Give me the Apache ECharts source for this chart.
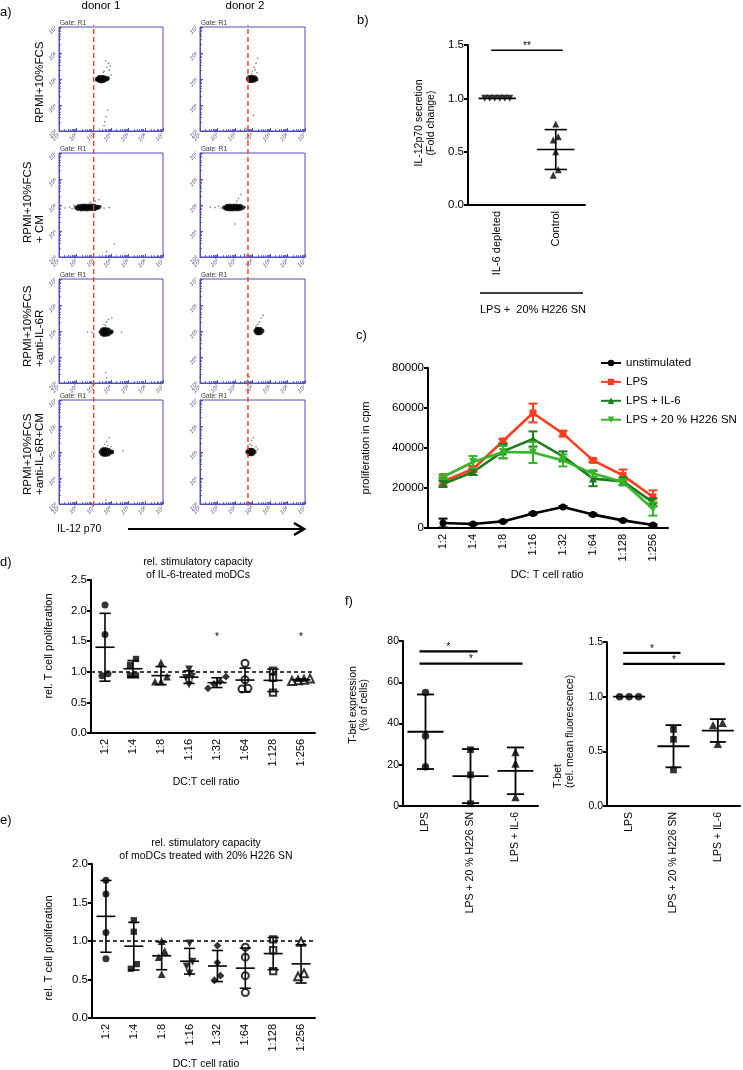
<!DOCTYPE html>
<html><head><meta charset="utf-8">
<script src="https://cdn.jsdelivr.net/npm/echarts@6/dist/echarts.min.js"></script>
<style>html,body{margin:0;padding:0;background:#fff}#c{width:743px;height:1070px}</style>
</head><body><div id="c"></div>
<script>
// ---------------- DATA ----------------
// Panel a: flow cytometry events, [log10 IL-12p70, log10 y-parameter]
const flowRowLabels = ['RPMI+10%FCS', 'RPMI+10%FCS\n+ CM', 'RPMI+10%FCS\n+anti-IL-6R', 'RPMI+10%FCS\n+anti-IL-6R+CM'];
const donorLabels = ['donor 1', 'donor 2'];
const gateThreshold = [1000, 5500];
const d1r1Blob = [[3.2,4.98],[3.25,5.0],[3.32,4.94],[3.32,5.06],[3.42,4.92],[3.42,5.05],[3.52,4.93],[3.52,5.06],[3.62,4.95],[3.62,5.05],[3.72,5.0],[3.8,5.02]];
const d1r1Sparse = [[3.6,5.3],[3.75,5.45],[3.85,5.6],[3.7,5.7],[3.95,5.5],[3.55,5.25],[3.9,5.35],[4.0,5.15],[3.8,3.8],[3.72,3.55],[3.65,3.35],[3.6,3.2]];
const d2r1Blob = [[3.75,5.0],[3.82,4.94],[3.82,5.06],[3.92,4.93],[3.92,5.06],[4.02,4.94],[4.02,5.06],[4.12,4.96],[4.12,5.05],[4.2,5.0]];
const d2r1Sparse = [[4.0,5.3],[4.1,5.45],[4.2,5.6],[4.3,5.8],[4.15,5.35],[3.95,5.2],[4.25,5.25],[4.3,4.95],[4.05,3.6],[3.6,3.1],[3.75,3.05]];
const d1r2Blob = [[2.0,4.9],[2.1,4.86],[2.15,4.95],[2.22,4.88],[2.3,4.84],[2.3,4.96],[2.38,4.9],[2.45,4.85],[2.45,4.97],[2.52,4.9],[2.6,4.84],[2.6,4.96],[2.68,4.9],[2.75,4.85],[2.75,4.97],[2.82,4.9],[2.9,4.86],[2.9,4.97],[2.98,4.91],[3.05,4.85],[3.05,4.96],[3.12,4.9],[3.2,4.9],[3.3,4.92]];
const d1r2Sparse = [[1.35,4.88],[1.6,4.92],[1.75,4.86],[1.85,5.0],[3.45,4.95],[3.6,4.88],[3.1,5.15],[3.3,5.2],[2.8,5.1],[3.9,4.9],[4.2,3.5],[3.75,3.2]];
const d2r2Blob = [[2.4,4.9],[2.48,4.88],[2.55,4.85],[2.55,4.96],[2.62,4.9],[2.7,4.84],[2.7,4.97],[2.78,4.9],[2.85,4.84],[2.85,4.96],[2.92,4.9],[3.0,4.85],[3.0,4.97],[3.08,4.9],[3.15,4.84],[3.15,4.96],[3.22,4.9],[3.3,4.86],[3.3,4.96],[3.45,4.9]];
const d2r2Sparse = [[1.6,4.92],[1.85,4.9],[2.05,4.95],[2.2,4.88],[3.6,4.92],[3.75,4.9],[3.2,5.25],[3.35,5.4],[3.1,5.15],[3.0,4.27],[3.55,3.1]];
const d1r3Blob = [[3.42,4.96],[3.5,4.88],[3.5,5.04],[3.6,4.86],[3.6,5.06],[3.65,4.96],[3.72,4.87],[3.72,5.05],[3.85,4.88],[3.85,5.04],[3.95,4.95],[4.02,4.97]];
const d1r3Sparse = [[3.6,5.25],[3.75,5.35],[3.85,5.45],[4.05,5.5],[3.7,5.2],[2.65,4.96],[2.9,4.95],[4.6,4.95],[3.7,3.4],[3.75,3.2]];
const d2r3Blob = [[4.18,5.0],[4.25,4.93],[4.25,5.07],[4.3,5.0],[4.35,4.92],[4.35,5.07],[4.45,4.93],[4.45,5.06],[4.55,5.0]];
const d2r3Sparse = [[4.3,5.25],[4.4,5.35],[4.5,5.5],[4.6,5.6],[4.2,5.2],[3.7,3.3],[3.72,3.1],[3.6,3.05],[3.8,3.25]];
const d1r4Blob = [[3.42,5.0],[3.5,4.92],[3.5,5.08],[3.6,4.9],[3.6,5.1],[3.65,5.0],[3.72,4.9],[3.72,5.09],[3.85,4.92],[3.85,5.07],[3.97,5.0],[4.05,5.0]];
const d1r4Sparse = [[3.65,5.3],[3.75,5.4],[3.9,5.55],[3.8,5.25],[4.0,5.2],[4.7,5.05],[2.9,5.0],[3.7,3.15]];
const d2r4Blob = [[3.72,5.0],[3.8,4.93],[3.8,5.07],[3.85,5.0],[3.9,4.92],[3.9,5.07],[4.0,4.93],[4.0,5.06],[4.1,5.0]];
const d2r4Sparse = [[3.85,5.3],[3.95,5.45],[4.05,5.55],[4.2,5.2],[4.3,5.1],[3.95,5.25],[3.75,3.05]];

// Panel b
const bCategories = ['IL-6 depleted', 'Control'];
const bIL6Depleted = [1.0, 1.0, 1.0, 1.0, 1.0, 1.0];
const bControl = [0.76, 0.64, 0.61, 0.50, 0.33, 0.28];

// Panel c
const ratioLabels = ['1:2','1:4','1:8','1:16','1:32','1:64','1:128','1:256'];
const cNames = ['unstimulated', 'LPS', 'LPS + IL-6', 'LPS + 20 % H226 SN'];
const cUnstim    = [2500, 2000, 3300, 7200, 10500, 6700, 3800, 1500];
const cUnstimErr = [2200, 400, 400, 500, 500, 500, 400, 400];
const cLPS       = [23300, 29500, 43500, 57500, 47200, 33800, 26300, 15500];
const cLPSErr    = [2000, 1500, 1000, 4700, 1500, 800, 2900, 3300];
const cIL6       = [22000, 28000, 38300, 44500, 35800, 24700, 23300, 12800];
const cIL6Err    = [1500, 1500, 3500, 3800, 2500, 3800, 2000, 2000];
const cH226      = [25500, 33000, 38000, 37800, 33800, 27200, 23000, 9500];
const cH226Err   = [1000, 3000, 3000, 5300, 3000, 1600, 1500, 3300];

// Panel d (IL-6-treated) and e (20% H226 SN), relative proliferation per donor
const dValues = [
  [2.09, 1.61, 0.97, 0.935],
  [1.21, 1.11, 0.94, 0.94],
  [1.15, 0.92, 0.84, 0.84],
  [1.04, 0.92, 0.90, 0.79],
  [0.92, 0.84, 0.80, 0.73],
  [1.14, 0.87, 0.73, 0.72],
  [1.02, 0.90, 0.66],
  [0.89, 0.87, 0.86, 0.85]
];
const dSignificant = ['1:32', '1:256'];
const eValues = [
  [1.79, 1.61, 1.11, 0.77],
  [1.27, 1.12, 0.70, 0.64],
  [1.00, 0.87, 0.79, 0.57],
  [0.97, 0.73, 0.67, 0.58],
  [0.94, 0.72, 0.55, 0.49],
  [0.92, 0.79, 0.55, 0.33],
  [1.02, 0.88, 0.61],
  [0.99, 0.58, 0.54]
];

// Panel f
const fGroups = ['LPS', 'LPS + 20 % H226 SN', 'LPS + IL-6'];
const fTbetPercent = [[55, 34, 19], [27.3, 15.1, 1.1], [26.2, 20.6, 4.4]];
const fTbetMFI = [[1.0, 1.0, 1.0], [0.70, 0.61, 0.33], [0.76, 0.74, 0.57]];
const fPercentSig = [[0, 1, 75], [0, 2, 69]];
const fMFISig = [[0, 1, 1.40], [0, 2, 1.30]];
const bSig = [[0, 1, 1.45]];

// ---------------- BUILD ----------------
const FONT = '"Liberation Sans", Arial, Helvetica, sans-serif';
const BLUE = '#4d4dc0';
const INV = 'path://M0,0L10,0L5,9Z';
const SUP = ['\u2070','\u00b9','\u00b2','\u00b3','\u2074','\u2075','\u2076','\u2077'];

const grids = [], xAxes = [], yAxes = [], series = [], graphic = [];

function flowAxis(gi, isX) {
  return {
    gridIndex: gi, type: 'log', logBase: 10,
    min: isX ? 10 : 1000, max: 1e7,
    axisLine: {lineStyle: {color: BLUE, width: 1}},
    axisTick: {inside: true, length: 3, lineStyle: {color: BLUE, width: 1}},
    minorTick: {show: true, splitNumber: 8, length: 2, lineStyle: {color: BLUE, width: 0.8}},
    splitLine: {show: false}, minorSplitLine: {show: false},
    axisLabel: {fontSize: 6, color: '#4a4a8a', rotate: 45, margin: 3, fontStyle: 'italic',
      formatter: v => '10' + SUP[Math.round(Math.log10(v))]}
  };
}
const toLin = p => [Math.pow(10, p[0]), Math.pow(10, p[1])];

const flowCols = [{left: 59, width: 104}, {left: 200, width: 105}];
const flowTops = [27, 153, 279, 400];
const FH = 104;
const flowData = [
  [[d1r1Blob, d1r1Sparse], [d2r1Blob, d2r1Sparse]],
  [[d1r2Blob, d1r2Sparse], [d2r2Blob, d2r2Sparse]],
  [[d1r3Blob, d1r3Sparse], [d2r3Blob, d2r3Sparse]],
  [[d1r4Blob, d1r4Sparse], [d2r4Blob, d2r4Sparse]]
];
for (let r = 0; r < 4; r++) {
  for (let d = 0; d < 2; d++) {
    const gi = r * 2 + d;
    grids.push({left: flowCols[d].left, top: flowTops[r], width: flowCols[d].width, height: FH,
      show: true, borderColor: BLUE, borderWidth: 1, backgroundColor: 'transparent', outerBoundsMode: 'none'});
    xAxes.push(flowAxis(gi, true));
    yAxes.push(flowAxis(gi, false));
    series.push({type: 'scatter', xAxisIndex: gi, yAxisIndex: gi, silent: true, symbolSize: 1.6,
      itemStyle: {color: '#555'}, data: flowData[r][d][1].map(toLin)});
    series.push({type: 'scatter', xAxisIndex: gi, yAxisIndex: gi, silent: true, symbolSize: 4.8,
      itemStyle: {color: '#000'}, data: flowData[r][d][0].map(toLin)});
    graphic.push({type: 'text', x: flowCols[d].left + 1, y: flowTops[r] - 4,
      style: {text: 'Gate: R1', fontSize: 6.5, fontFamily: FONT, fill: '#333', align: 'left', verticalAlign: 'middle', textAlign: 'left', textVerticalAlign: 'middle'}});
  }
}
// gate threshold lines spanning all rows (grids 8, 9)
for (let d = 0; d < 2; d++) {
  const gi = 8 + d;
  grids.push({left: flowCols[d].left, top: 25, width: flowCols[d].width, height: 481, outerBoundsMode: 'none'});
  xAxes.push({gridIndex: gi, type: 'log', logBase: 10, min: 10, max: 1e7, show: false});
  yAxes.push({gridIndex: gi, type: 'value', min: 0, max: 1, show: false});
  series.push({type: 'line', xAxisIndex: gi, yAxisIndex: gi, silent: true, symbol: 'none', z: 10,
    lineStyle: {color: '#ff3d1f', width: 1.4, type: [5, 3]},
    data: [[gateThreshold[d], 0], [gateThreshold[d], 1]]});
}

// common black axes
function catX(gi, cats, fs) {
  return {gridIndex: gi, type: 'category', data: cats, boundaryGap: true,
    axisLine: {lineStyle: {color: '#000', width: 2}},
    axisTick: {alignWithLabel: true, length: 4, lineStyle: {color: '#000', width: 2}},
    axisLabel: {rotate: 90, interval: 0, fontSize: fs, color: '#000', margin: 6, fontFamily: FONT},
    splitLine: {show: false}};
}
function valY(gi, min, max, interval, fmt, fs) {
  return {gridIndex: gi, type: 'value', min, max, interval,
    axisLine: {show: true, lineStyle: {color: '#000', width: 2}},
    axisTick: {show: true, length: 4, lineStyle: {color: '#000', width: 2}},
    axisLabel: {fontSize: fs, color: '#000', margin: 4, formatter: fmt, fontFamily: FONT},
    splitLine: {show: false}};
}
const f1 = v => v.toFixed(1);
const f0 = v => String(v);

function meanSd(vals) {
  const n = vals.length;
  const m = vals.reduce((a, b) => a + b, 0) / n;
  const sd = n > 1 ? Math.sqrt(vals.reduce((a, b) => a + (b - m) * (b - m), 0) / (n - 1)) : 0;
  return [m, sd];
}
function swarm(vals, ppu, thresh, spacing) {
  const idx = vals.map((v, i) => i).sort((a, b) => vals[a] - vals[b]);
  const offs = new Array(vals.length).fill(0);
  let cl = [idx[0]];
  const flush = () => { const n = cl.length; cl.forEach((k, j) => { offs[k] = (j - (n - 1) / 2) * spacing; }); };
  for (let j = 1; j < idx.length; j++) {
    if ((vals[idx[j]] - vals[idx[j - 1]]) * ppu < thresh) cl.push(idx[j]);
    else { flush(); cl = [idx[j]]; }
  }
  flush();
  return offs;
}
function meanSdRender(hw, cw, lw) {
  return (params, api) => {
    const x = api.value(0), m = api.value(1), sd = api.value(2);
    const c = api.coord([x, m]);
    const band = api.size([1, 0])[0];
    const H = band * hw, C = band * cw;
    const st = {stroke: '#000', lineWidth: lw, fill: null};
    const kids = [{type: 'line', shape: {x1: c[0] - H, y1: c[1], x2: c[0] + H, y2: c[1]}, style: st}];
    if (sd > 0) {
      const t = api.coord([x, m + sd]), b = api.coord([x, m - sd]);
      kids.push({type: 'line', shape: {x1: c[0], y1: t[1], x2: c[0], y2: b[1]}, style: st});
      kids.push({type: 'line', shape: {x1: c[0] - C, y1: t[1], x2: c[0] + C, y2: t[1]}, style: st});
      kids.push({type: 'line', shape: {x1: c[0] - C, y1: b[1], x2: c[0] + C, y2: b[1]}, style: st});
    }
    return {type: 'group', children: kids};
  };
}
function dotPanel(gi, groups, symbols, cfg) {
  const ppu = cfg.height / (cfg.max - cfg.min);
  groups.forEach((vals, g) => {
    const offs = swarm(vals, ppu, cfg.thresh, cfg.spacing);
    const sym = symbols[g];
    const empty = sym.indexOf('empty') === 0;
    series.push({type: 'scatter', xAxisIndex: gi, yAxisIndex: gi, silent: true, symbol: sym,
      symbolSize: cfg.size * (sym === 'rect' || sym === 'emptyRect' ? 0.9 : (sym === 'circle' || sym === 'emptyCircle' ? 1 : 1.12)),
      itemStyle: {color: '#000', borderColor: '#000', borderWidth: empty ? 1.4 : 0},
      z: 3,
      data: vals.map((v, k) => ({value: [g, v], symbolOffset: [offs[k], 0]}))});
  });
  series.push({type: 'custom', xAxisIndex: gi, yAxisIndex: gi, silent: true, z: 4,
    renderItem: meanSdRender(cfg.hw, cfg.cw, cfg.lw),
    data: groups.map((vals, g) => [g].concat(meanSd(vals)))});
}
function starText(x, y, s) {
  // asterisk glyphs sit high in the em box; centre box a little below target
  return {type: 'text', x: x, y: y + 2,
    style: {text: s, fontSize: 10, fontFamily: FONT, fill: '#000', align: 'center', verticalAlign: 'middle', textAlign: 'center', textVerticalAlign: 'middle'}};
}
function sigRender(labels, lw) {
  return (params, api) => {
    const p0 = api.coord([api.value(0), api.value(2)]);
    const p1 = api.coord([api.value(1), api.value(2)]);
    const x0 = p0[0] - 6, x1 = p1[0] + 7;
    return {type: 'group', children: [
      {type: 'line', shape: {x1: x0, y1: p0[1], x2: x1, y2: p0[1]}, style: {stroke: '#000', lineWidth: lw}},
      starText((x0 + x1) / 2, p0[1] - 6, labels[params.dataIndex])
    ]};
  };
}

// Panel b (grid 10)
grids.push({left: 468, top: 45, width: 117, height: 160, outerBoundsMode: 'none'});
xAxes.push(catX(10, bCategories, 11));
yAxes.push(valY(10, 0, 1.5, 0.5, f1, 11.5));
dotPanel(10, [bIL6Depleted, bControl], [INV, 'triangle'],
  {height: 160, min: 0, max: 1.5, size: 6.3, thresh: 6, spacing: 5, hw: 0.32, cw: 0.19, lw: 1.6});
series.push({type: 'custom', xAxisIndex: 10, yAxisIndex: 10, silent: true, renderItem: sigRender(['**'], 1.5), data: bSig});

// Panel c (grid 11)
grids.push({left: 428, top: 368, width: 240, height: 160, outerBoundsMode: 'none'});
xAxes.push(catX(11, ratioLabels, 11));
yAxes.push(valY(11, 0, 80000, 20000, f0, 11.5));
const cColors = ['#000000', '#ff3d1f', '#1e7b1e', '#35b52a'];
const cSymbols = ['circle', 'rect', 'triangle', INV];
const cSizes = [7, 7, 8, 8];
[[cUnstim, cUnstimErr], [cLPS, cLPSErr], [cIL6, cIL6Err], [cH226, cH226Err]].forEach((pair, s) => {
  const col = cColors[s];
  series.push({type: 'custom', xAxisIndex: 11, yAxisIndex: 11, silent: true, z: 2 + s * 2,
    renderItem: (params, api) => {
      const x = api.value(0), v = api.value(1), e = api.value(2);
      const t = api.coord([x, v + e]), b = api.coord([x, Math.max(0, v - e)]);
      const st = {stroke: col, lineWidth: 2};
      return {type: 'group', children: [
        {type: 'line', shape: {x1: t[0], y1: t[1], x2: b[0], y2: b[1]}, style: st},
        {type: 'line', shape: {x1: t[0] - 4.5, y1: t[1], x2: t[0] + 4.5, y2: t[1]}, style: st},
        {type: 'line', shape: {x1: b[0] - 4.5, y1: b[1], x2: b[0] + 4.5, y2: b[1]}, style: st}
      ]};
    },
    data: pair[0].map((v, i) => [i, v, pair[1][i]])});
  series.push({type: 'line', name: cNames[s], xAxisIndex: 11, yAxisIndex: 11, z: 3 + s * 2,
    symbol: cSymbols[s], symbolSize: cSizes[s], showAllSymbol: true,
    lineStyle: {color: col, width: 2.6}, itemStyle: {color: col},
    data: pair[0]});
});

// Panel d (grid 12)
const dotSymbols = ['circle', 'rect', 'triangle', INV, 'diamond', 'emptyCircle', 'emptyRect', 'emptyTriangle'];
grids.push({left: 91, top: 580, width: 224, height: 153, outerBoundsMode: 'none'});
xAxes.push(catX(12, ratioLabels, 11));
yAxes.push(valY(12, 0, 2.5, 0.5, f1, 11.5));
dotPanel(12, dValues, dotSymbols, {height: 153, min: 0, max: 2.5, size: 7, thresh: 6.5, spacing: 6, hw: 0.34, cw: 0.2, lw: 1.6});
series.push({type: 'line', xAxisIndex: 12, yAxisIndex: 12, silent: true, symbol: 'none', data: [],
  markLine: {silent: true, symbol: 'none', label: {show: false}, lineStyle: {color: '#000', width: 1.5, type: [4, 3]}, data: [{yAxis: 1}]}});
series.push({type: 'custom', xAxisIndex: 12, yAxisIndex: 12, silent: true,
  renderItem: (params, api) => {
    const p = api.coord([api.value(0), api.value(1)]);
    return starText(p[0], p[1], '*');
  },
  data: dSignificant.map(r => [ratioLabels.indexOf(r), 1.6])});

// Panel e (grid 13)
grids.push({left: 92, top: 864, width: 223, height: 154, outerBoundsMode: 'none'});
xAxes.push(catX(13, ratioLabels, 11));
yAxes.push(valY(13, 0, 2.0, 0.5, f1, 11.5));
dotPanel(13, eValues, dotSymbols, {height: 154, min: 0, max: 2.0, size: 7, thresh: 6.5, spacing: 6, hw: 0.34, cw: 0.2, lw: 1.6});
series.push({type: 'line', xAxisIndex: 13, yAxisIndex: 13, silent: true, symbol: 'none', data: [],
  markLine: {silent: true, symbol: 'none', label: {show: false}, lineStyle: {color: '#000', width: 1.5, type: [4, 3]}, data: [{yAxis: 1}]}});

// Panel f-left (grid 14)
grids.push({left: 403, top: 641, width: 135, height: 165, outerBoundsMode: 'none'});
xAxes.push(catX(14, fGroups, 10.5));
yAxes.push(valY(14, 0, 80, 20, f0, 10.5));
dotPanel(14, fTbetPercent, ['circle', 'rect', 'triangle'], {height: 165, min: 0, max: 80, size: 7.5, thresh: 7, spacing: 7, hw: 0.4, cw: 0.19, lw: 1.8});
series.push({type: 'custom', xAxisIndex: 14, yAxisIndex: 14, silent: true, renderItem: sigRender(['*', '*'], 2.2), data: fPercentSig});

// Panel f-right (grid 15)
grids.push({left: 607, top: 642, width: 133, height: 164, outerBoundsMode: 'none'});
xAxes.push(catX(15, fGroups, 10.5));
yAxes.push(valY(15, 0, 1.5, 0.5, f1, 10.5));
dotPanel(15, fTbetMFI, ['circle', 'rect', 'triangle'], {height: 164, min: 0, max: 1.5, size: 7.5, thresh: 7, spacing: 9.5, hw: 0.36, cw: 0.18, lw: 1.8});
series.push({type: 'custom', xAxisIndex: 15, yAxisIndex: 15, silent: true, renderItem: sigRender(['*', '*'], 2.2), data: fMFISig});

// ---------------- TEXT ----------------
function txt(text, x, y, o) {
  o = o || {};
  const align = o.align || 'center', va = o.va || 'middle';
  return {type: 'text', x, y, rotation: o.rot || 0, silent: true,
    style: {text, fontSize: o.fs || 11, fontFamily: FONT, fill: o.fill || '#000', lineHeight: o.lh,
      align, verticalAlign: va, textAlign: align, textVerticalAlign: va}};
}
const R = Math.PI / 2;
graphic.push(txt('a)', 0, 12, {fs: 13, align: 'left'}));
graphic.push(txt('b)', 357, 20, {fs: 13, align: 'left'}));
graphic.push(txt('c)', 356, 335, {fs: 13, align: 'left'}));
graphic.push(txt('d)', 0, 562, {fs: 13, align: 'left'}));
graphic.push(txt('e)', 0, 820, {fs: 13, align: 'left'}));
graphic.push(txt('f)', 345, 601, {fs: 13, align: 'left'}));
graphic.push(txt(donorLabels[0], 101, 6, {fs: 11.5}));
graphic.push(txt(donorLabels[1], 245, 6, {fs: 11.5}));
const rowBottoms = [123, 243, 367, 495];
flowRowLabels.forEach((t, r) => graphic.push(txt(t, 46, rowBottoms[r], {fs: 11.5, rot: R, align: 'left', va: 'bottom', lh: 12})));
graphic.push(txt('IL-12 p70', 57, 529, {fs: 10.5, align: 'left'}));
graphic.push({type: 'polyline', silent: true, shape: {points: [[128, 529], [303, 529]]}, style: {stroke: '#000', lineWidth: 2, fill: null}});
graphic.push({type: 'polyline', silent: true, shape: {points: [[294, 523], [304, 529], [294, 535]]}, style: {stroke: '#000', lineWidth: 2.6, fill: null}});
// panel b
graphic.push(txt('IL-12p70 secretion\n(Fold change)', 425, 123, {fs: 10.5, rot: R, lh: 11.5}));
graphic.push({type: 'line', silent: true, shape: {x1: 480, y1: 293, x2: 583, y2: 293}, style: {stroke: '#000', lineWidth: 1.5}});
graphic.push(txt('LPS +  20% H226 SN', 533, 310, {fs: 11}));
// panel c
graphic.push(txt('DC: T cell ratio', 547, 575, {fs: 11}));
graphic.push(txt('proliferation in cpm', 366, 448, {fs: 11, rot: R}));
// panel d
graphic.push(txt('rel. stimulatory capacity\nof IL-6-treated moDCs', 198, 569, {fs: 10.5, lh: 13}));
graphic.push(txt('rel. T cell proliferation', 49, 646, {fs: 11, rot: R}));
graphic.push(txt('DC:T cell ratio', 206, 782, {fs: 10.5}));
// panel e
graphic.push(txt('rel. stimulatory capacity\nof moDCs treated with 20% H226 SN', 206, 850, {fs: 10.5, lh: 13}));
graphic.push(txt('rel. T cell proliferation', 49, 948, {fs: 11, rot: R}));
graphic.push(txt('DC:T cell ratio', 206, 1064, {fs: 10.5}));
// panel f
graphic.push(txt('T-bet expression\n(% of cells)', 359, 705, {fs: 10.5, rot: R, lh: 11}));
graphic.push(txt('T-bet\n(rel. mean fluorescence)', 576, 788, {fs: 10.5, rot: R, align: 'left', va: 'bottom', lh: 12}));

const chart = echarts.init(document.getElementById('c'), null, {renderer: 'canvas'});
chart.setOption({
  animation: false,
  backgroundColor: '#fff',
  textStyle: {fontFamily: FONT},
  legend: {data: cNames, orient: 'vertical', left: 600, top: 357, padding: 0, itemWidth: 20, itemHeight: 8, itemGap: 6.9,
    selectedMode: false, textStyle: {fontSize: 11.5, fontFamily: FONT, color: '#000'}},
  grid: grids, xAxis: xAxes, yAxis: yAxes, series, graphic
});
</script></body></html>
